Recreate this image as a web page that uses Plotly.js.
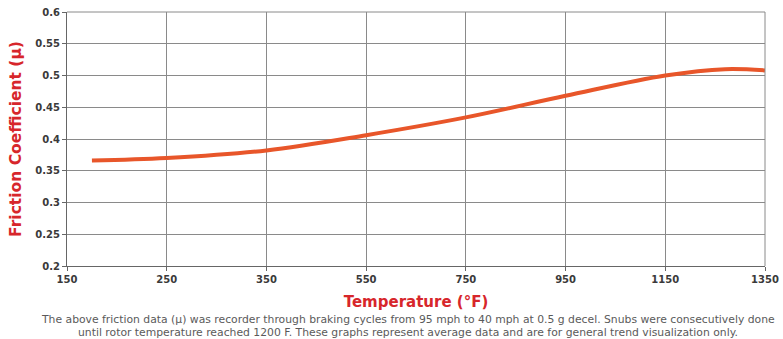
<!DOCTYPE html>
<html>
<head>
<meta charset="utf-8">
<script src="https://cdn.plot.ly/plotly-3.0.1.min.js"></script>
<style>html,body{margin:0;padding:0;background:#fff;}#chart{width:783px;height:339px;}</style>
</head>
<body>
<div id="chart"></div>
<script>
// Temperature tick labels (°F), evenly spaced category positions
const tempLabels = ['150','250','350','550','750','950','1150','1350'];
const tempPositions = [0,1,2,3,4,5,6,7];
// Curve sample points (position along temperature axis, friction coefficient)
const curvePos = [0.25, 1, 2, 3, 4, 5, 6, 6.6, 7];
const curveMu  = [0.366, 0.370, 0.382, 0.406, 0.434, 0.468, 0.500, 0.510, 0.508];
const yTicks = [0.2,0.25,0.3,0.35,0.4,0.45,0.5,0.55,0.6];
const yTickText = ['0.2','0.25','0.3','0.35','0.4','0.45','0.5','0.55','0.6'];
const captionLines = [
  'The above friction data (µ) was recorder through braking cycles from 95 mph to 40 mph at 0.5 g decel. Snubs were consecutively done',
  'until rotor temperature reached 1200 F. These graphs represent average data and are for general trend visualization only.'
];

const trace = {
  x: curvePos, y: curveMu, mode: 'lines', type: 'scatter',
  line: {color: '#E8562A', width: 4, shape: 'spline', smoothing: 1.0},
  hoverinfo: 'skip'
};
const tickFont = {family: 'DejaVu Sans, sans-serif', size: 10, color: '#3a3a3a', weight: 'bold'};
const captionFont = {family: 'DejaVu Sans, sans-serif', size: 10.8, color: '#5a5a5a'};
const layout = {
  width: 783, height: 339,
  margin: {l: 67, r: 18, t: 12, b: 73},
  paper_bgcolor: '#fff', plot_bgcolor: '#fff',
  showlegend: false,
  xaxis: {
    range: [0, 7], tickvals: tempPositions, ticktext: tempLabels,
    showgrid: true, gridcolor: '#8a8a8a', gridwidth: 1,
    showline: true, linecolor: '#666', linewidth: 1, mirror: false,
    ticks: 'outside', ticklen: 4, tickcolor: '#666',
    tickfont: tickFont, zeroline: false,
    title: {text: 'Temperature (°F)', standoff: 12, font: {family: 'DejaVu Sans, sans-serif', size: 15, color: '#D7262B', weight: 'bold'}}
  },
  yaxis: {
    range: [0.2, 0.6], tickvals: yTicks, ticktext: yTickText,
    showgrid: true, gridcolor: '#8a8a8a', gridwidth: 1,
    showline: true, linecolor: '#666', linewidth: 1,
    ticks: 'outside', ticklen: 4, tickcolor: '#666',
    tickfont: tickFont, zeroline: false,
    title: {text: 'Friction Coefficient (µ)', standoff: 9, font: {family: 'DejaVu Sans, sans-serif', size: 15.5, color: '#D7262B', weight: 'bold'}}
  },
  shapes: [
    {type: 'line', xref: 'paper', yref: 'paper', x0: 1, x1: 1, y0: 0, y1: 1, line: {color: '#8a8a8a', width: 1}},
    {type: 'line', xref: 'paper', yref: 'paper', x0: 0, x1: 1, y0: 1, y1: 1, line: {color: '#8a8a8a', width: 1}}
  ],
  annotations: captionLines.map((t, i) => ({
    text: t, xref: 'paper', yref: 'paper', x: 0.5, y: 0, xshift: -8, yshift: -53 - 13 * i,
    xanchor: 'center', yanchor: 'middle', showarrow: false, align: 'center',
    font: captionFont
  }))
};
Plotly.newPlot('chart', [trace], layout, {displayModeBar: false, staticPlot: true});
</script>
</body>
</html>
